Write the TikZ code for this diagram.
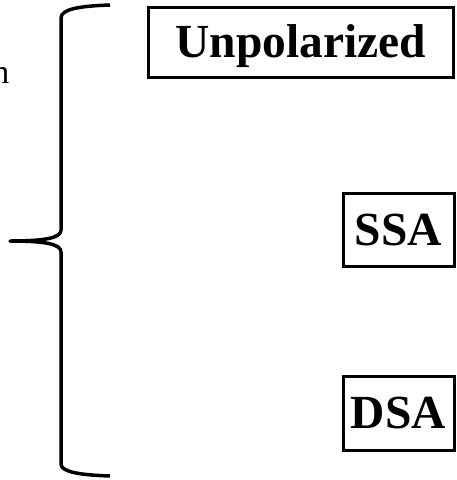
\documentclass[tikz,border=0pt]{standalone}
\usepackage{fontspec}
\setmainfont{Liberation Serif}
\begin{document}
\begin{tikzpicture}[x=1pt,y=-1pt,
  box/.style={draw, line width=3pt, inner sep=0pt, font=\fontsize{47.5}{50}\selectfont\bfseries, text height=31pt, text depth=1pt},
  brace/.style={line width=3.5pt, line cap=butt, line join=round}]
\useasboundingbox (0,0) rectangle (456,480);
\node[box, minimum width=305pt, minimum height=70pt] (unpol) at (301,42.5) {Unpolarized};
\node[box, minimum width=111pt, minimum height=73pt] (ssa) at (398.5,230) {SSA};
\node[box, minimum width=111pt, minimum height=74pt] (dsa) at (398.5,413.5) {DSA};
\node[anchor=base east, inner sep=0pt, font=\fontsize{34}{36}\selectfont] (lbl) at (9.5,83) {n};
\coordinate (topend) at (110,5);
\coordinate (tip) at (10,241);
\coordinate (botend) at (110,476);
\draw[brace] (topend) .. controls (80,6) and (61,9) .. (61,18)
  -- (61,230) .. controls (61,238) and (45,241) .. (tip)
  .. controls (45,241) and (61,244) .. (61,252)
  -- (61,464) .. controls (61,472) and (80,475) .. (botend);
\end{tikzpicture}
\end{document}
